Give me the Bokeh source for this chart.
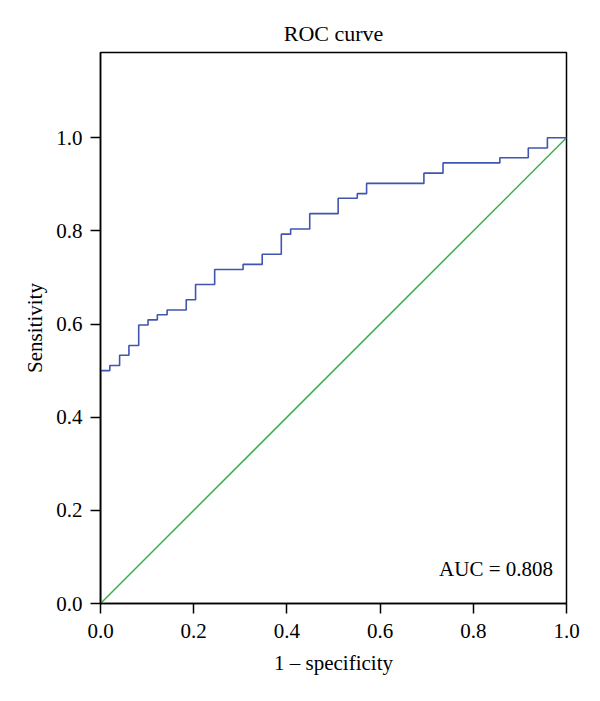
from bokeh.plotting import figure
from bokeh.models import Range1d, FixedTicker, Label
from bokeh.embed import file_html
from bokeh.resources import INLINE

# ROC step vertices (1 - specificity, sensitivity)
fpr = [0.0, 0.0, 0.020, 0.041, 0.061, 0.082, 0.102, 0.122, 0.143, 0.184, 0.204,
       0.245, 0.306, 0.347, 0.388, 0.408, 0.449, 0.510, 0.551, 0.571, 0.694,
       0.735, 0.857, 0.918, 0.959, 1.0]
tpr = [0.0, 0.500, 0.511, 0.533, 0.554, 0.598, 0.609, 0.620, 0.630, 0.652, 0.685,
       0.717, 0.728, 0.750, 0.793, 0.804, 0.837, 0.870, 0.880, 0.902, 0.924,
       0.946, 0.957, 0.978, 1.000, 1.000]
ref_x = [0.0, 1.0]
ref_y = [0.0, 1.0]
ticks = [0.0, 0.2, 0.4, 0.6, 0.8, 1.0]
tick_labels = ["0.0", "0.2", "0.4", "0.6", "0.8", "1.0"]
auc_text = "AUC = 0.808"

FONT = "Liberation Serif"
FS = "21px"

p = figure(width=584, height=685, output_backend="svg", toolbar_location=None,
           x_range=Range1d(0, 1), y_range=Range1d(0, 1.183),
           title="ROC curve",
           min_border_left=100, min_border_right=18, min_border_top=52, min_border_bottom=82)

p.title.align = "center"
p.title.text_font = FONT
p.title.text_font_size = "22px"
p.title.text_font_style = "normal"
p.title.text_color = "black"
p.title.standoff = 13
p.title.offset = -6

p.grid.visible = False
p.outline_line_color = "black"
p.outline_line_width = 1.5
p.outline_line_alpha = 1.0
p.background_fill_color = "white"
p.border_fill_color = "white"

for ax in (p.xaxis[0], p.yaxis[0]):
    ax.ticker = FixedTicker(ticks=ticks)
    ax.major_label_overrides = {t: l for t, l in zip(ticks, tick_labels)}
    ax.minor_tick_line_color = None
    ax.major_tick_in = 0
    ax.major_tick_out = 10
    ax.major_tick_line_width = 1.5
    ax.major_tick_line_color = "black"
    ax.axis_line_color = "black"
    ax.axis_line_width = 1.5
    ax.major_label_text_font = FONT
    ax.major_label_text_font_size = FS
    ax.major_label_text_color = "black"
    ax.axis_label_text_font = FONT
    ax.axis_label_text_font_size = FS
    ax.axis_label_text_font_style = "normal"
    ax.axis_label_text_color = "black"

p.xaxis.major_label_standoff = 10
p.yaxis.major_label_standoff = 8
p.xaxis.axis_label = "1 \u2013 specificity"
p.yaxis.axis_label = "Sensitivity"
p.xaxis.axis_label_standoff = 10
p.yaxis.axis_label_standoff = 6

p.line(ref_x, ref_y, line_color="#3dab4a", line_width=1.5)
p.step(fpr, tpr, mode="after", line_color="#3f55b0", line_width=1.6)

p.add_layout(Label(x=0.971, y=0.073, text=auc_text, text_align="right",
                   text_baseline="middle", text_font=FONT, text_font_size=FS,
                   text_color="black"))

open("out.html", "w").write(file_html(p, INLINE))
